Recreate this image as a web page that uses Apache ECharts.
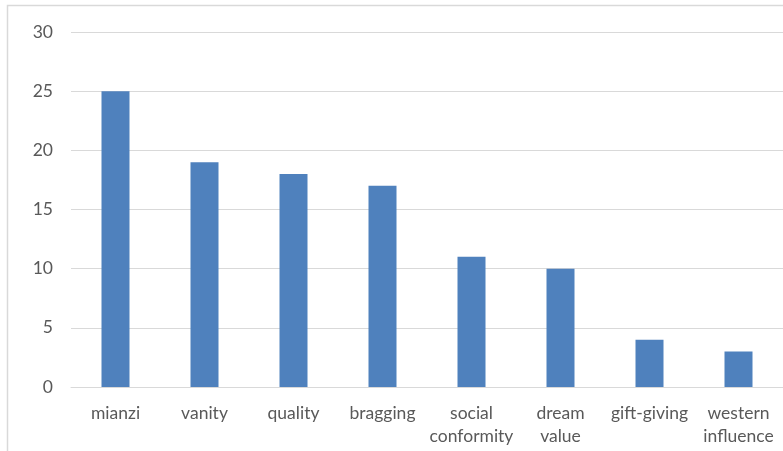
<!DOCTYPE html>
<html><head><meta charset="utf-8">
<script src="https://cdn.jsdelivr.net/npm/echarts@6/dist/echarts.min.js"></script>
<style>html,body{margin:0;padding:0;background:#fff}#c{width:783px;height:451px}</style>
</head><body><div id="c"></div>
<script>
const categories = ['mianzi','vanity','quality','bragging','social\nconformity','dream\nvalue','gift-giving','western\ninfluence'];
const values = [25, 19, 18, 17, 11, 10, 4, 3];
const yTicks = {min: 0, max: 30, interval: 5};

const chart = echarts.init(document.getElementById('c'));
chart.setOption({
  animation: false,
  graphic: [{
    type: 'rect', shape: {x: 7.5, y: 5.5, width: 800, height: 460},
    style: {fill: 'none', stroke: '#d9d9d9', lineWidth: 1.5}, silent: true
  }],
  grid: {left: 71, right: 0, top: 32, bottom: 64},
  xAxis: {
    type: 'category', data: categories,
    axisLine: {lineStyle: {color: '#d9d9d9', width: 1}},
    axisTick: {show: false},
    axisLabel: {color: '#595959', fontFamily: 'Lato', fontSize: 17.5, margin: 15, lineHeight: 23, interval: 0}
  },
  yAxis: {
    type: 'value', min: yTicks.min, max: yTicks.max, interval: yTicks.interval,
    axisLine: {show: false}, axisTick: {show: false},
    splitLine: {lineStyle: {color: '#d9d9d9', width: 1}},
    axisLabel: {color: '#595959', fontFamily: 'Lato', fontSize: 17.5, margin: 18}
  },
  series: [{type: 'bar', data: values, barWidth: 28, itemStyle: {color: '#4f81bd'}}]
});
</script></body></html>
